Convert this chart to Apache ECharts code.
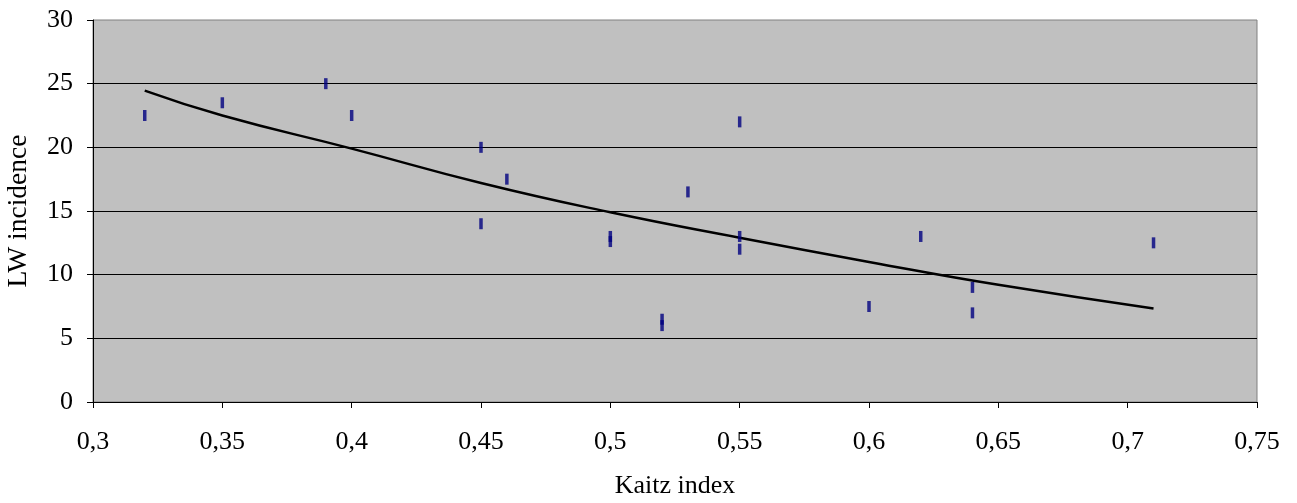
<!DOCTYPE html>
<html>
<head>
<meta charset="utf-8">
<script src="https://cdn.jsdelivr.net/npm/echarts@6/dist/echarts.min.js"></script>
<style>
  html, body { margin: 0; padding: 0; background: #fff; }
  #chart { width: 1297px; height: 503px; }
</style>
</head>
<body>
<div id="chart"></div>
<script>
// Observed points (Kaitz index vs LW incidence)
const kaitz = [0.32, 0.35, 0.39, 0.40, 0.45, 0.45, 0.46, 0.50, 0.50, 0.52, 0.52, 0.53,
               0.55, 0.55, 0.55, 0.60, 0.62, 0.64, 0.64, 0.71];
const incidence = [22.5, 23.5, 25.0, 22.5, 20.0, 14.0, 17.5, 12.6, 13.0, 6.0, 6.5, 16.5,
                   22.0, 13.0, 12.0, 7.5, 13.0, 9.0, 7.0, 12.5];

// Trend line
const trendX = [0.32, 0.35, 0.40, 0.45, 0.50, 0.55, 0.60, 0.65, 0.71];
const trendY = [24.45, 22.5, 19.9, 17.2, 14.9, 12.9, 11.0, 9.2, 7.35];

const chart = echarts.init(document.getElementById('chart'));

const fmtComma = v => String(+v.toFixed(2)).replace('.', ',');
const serif = '"Liberation Serif", "Times New Roman", serif';

const option = {
    animation: false,
    textStyle: { fontFamily: serif },
    grid: {
        left: 93,
        right: 40,
        top: 20,
        bottom: 101,
        outerBoundsMode: 'none',
        containLabel: false,
        show: true,
        backgroundColor: '#c0c0c0',
        borderColor: '#808080',
        borderWidth: 1
    },
    xAxis: {
        type: 'value',
        min: 0.3,
        max: 0.75,
        interval: 0.05,
        name: 'Kaitz index',
        nameLocation: 'middle',
        nameGap: 71,
        nameTextStyle: { color: '#000', fontSize: 26, fontFamily: serif },
        axisLine: { onZero: false, lineStyle: { color: '#000', width: 1 } },
        axisTick: { show: true, length: 6, inside: false, lineStyle: { color: '#000' } },
        axisLabel: { color: '#000', fontSize: 26, margin: 27, fontFamily: serif, formatter: fmtComma },
        splitLine: { show: false }
    },
    yAxis: {
        type: 'value',
        min: 0,
        max: 30,
        interval: 5,
        name: 'LW incidence',
        nameLocation: 'middle',
        nameGap: 60,
        nameTextStyle: { color: '#000', fontSize: 27.5, fontFamily: serif },
        axisLine: { show: true, lineStyle: { color: '#000', width: 1 } },
        axisTick: { show: true, length: 6, inside: false, lineStyle: { color: '#000' } },
        axisLabel: { color: '#000', fontSize: 26, margin: 20, fontFamily: serif },
        splitLine: { show: true, showMaxLine: false, lineStyle: { color: '#000', width: 1 } }
    },
    series: [
        {
            name: 'Trend',
            type: 'line',
            data: trendX.map((x, i) => [x, trendY[i]]),
            smooth: true,
            showSymbol: false,
            lineStyle: { color: '#000', width: 2.5 },
            z: 3
        },
        {
            name: 'LW incidence',
            type: 'scatter',
            data: kaitz.map((x, i) => [x, incidence[i]]),
            symbol: 'rect',
            symbolSize: [3.5, 11],
            itemStyle: { color: '#000080' },
            z: 4
        }
    ]
};

chart.setOption(option);
</script>
</body>
</html>
